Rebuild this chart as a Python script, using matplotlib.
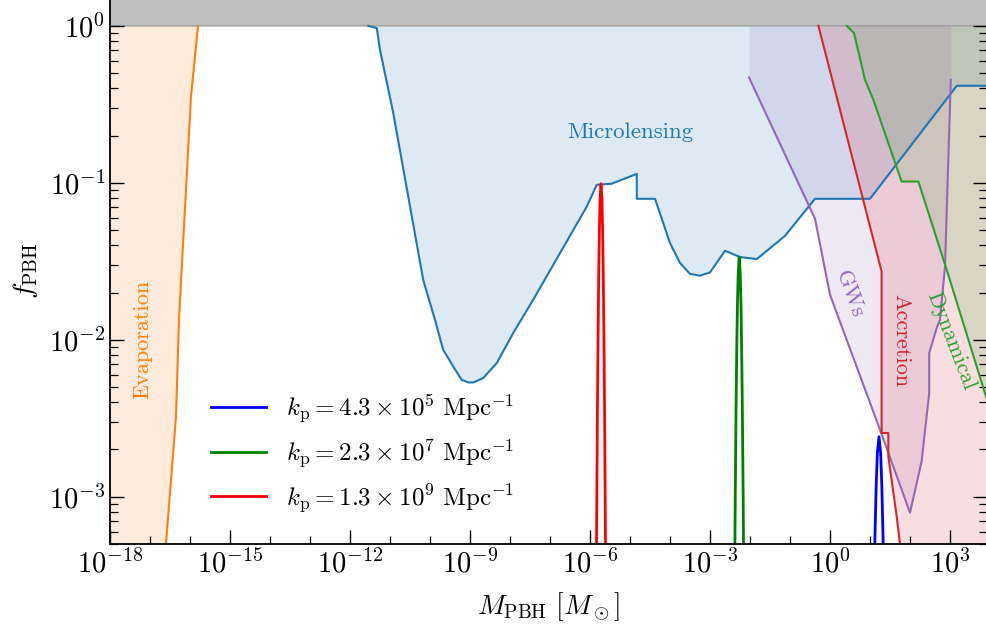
import numpy as np
import matplotlib
matplotlib.use('Agg')
import matplotlib.pyplot as plt
from matplotlib.ticker import NullFormatter

plt.rcParams['font.family'] = 'serif'
plt.rcParams['font.serif'] = ['cmr10']
plt.rcParams['mathtext.fontset'] = 'cm'
plt.rcParams['axes.formatter.use_mathtext'] = True

# all values are log10 of M_PBH [M_sun] and log10 of f_PBH
evap_logm = [-18.0, -16.6, -16.35, -16.275, -15.975, -15.8]
evap_logf = [-8.0, -3.3, -2.49, -1.87, -0.452, 0.0]

lens_logm = [-11.54, -11.33, -11.25, -10.92, -10.17, -9.875, -9.67, -9.42, -9.21,
             -9.04, -8.92, -8.67, -8.33, -7.92, -7.42, -6.08, -5.83, -5.46, -4.83,
             -4.83, -4.375, -4.0, -3.75, -3.5, -3.25, -3.0, -2.625, -2.25, -1.83,
             -1.125, -0.375, 1.0, 3.17, 4.0]
lens_logf = [0.0, -0.015, -0.153, -0.554, -1.618, -1.873, -2.064, -2.17, -2.255,
             -2.272, -2.272, -2.244, -2.148, -1.957, -1.745, -1.151, -1.013, -1.006,
             -0.943, -1.102, -1.102, -1.384, -1.511, -1.58, -1.592, -1.571, -1.433,
             -1.473, -1.486, -1.338, -1.102, -1.102, -0.382, -0.382]

gw_logm = [-2.025, -0.375, 0.0, 0.167, 1.25, 2.0, 2.29, 2.48, 2.48, 2.68, 2.75, 2.875, 3.02]
gw_logf = [-0.329, -1.229, -1.713, -1.828, -2.573, -3.102, -2.775, -2.34, -2.085,
           -1.915, -1.873, -1.533, -0.344]

acc_logm = [-0.29, 1.29, 1.29, 1.458, 1.458, 1.667, 1.75, 4.0]
acc_logf = [0.0, -1.565, -2.594, -2.594, -2.743, -3.125, -3.306, -6.0]

dyn_logm = [0.4175, 0.6, 0.875, 1.083, 1.79, 2.21, 2.25, 2.917, 3.925, 4.0]
dyn_logf = [0.0, -0.046, -0.344, -0.471, -0.992, -0.992, -1.024, -1.554, -2.382, -2.44]

# extended mass functions for the three peaks
peak_labels = [r'$k_\mathrm{p} = 4.3 \times 10^5\ \mathrm{Mpc}^{-1}$',
               r'$k_\mathrm{p} = 2.3 \times 10^7\ \mathrm{Mpc}^{-1}$',
               r'$k_\mathrm{p} = 1.3 \times 10^9\ \mathrm{Mpc}^{-1}$']
peak_colors = ['blue', 'green', 'red']

blue_logm = [1.071, 1.099, 1.127, 1.156, 1.185, 1.225, 1.265, 1.294, 1.323, 1.351, 1.379]
blue_logf = [-4.118, -3.618, -3.218, -2.918, -2.718, -2.618, -2.718, -2.918, -3.218, -3.618, -4.118]

green_logm = [-2.409, -2.391, -2.368, -2.35, -2.332, -2.314, -2.295, -2.27,
              -2.245, -2.226, -2.208, -2.19, -2.172, -2.149, -2.131]
green_logf = [-4.473, -3.773, -2.973, -2.473, -2.073, -1.773, -1.573, -1.473,
              -1.573, -1.773, -2.073, -2.473, -2.973, -3.773, -4.473]

red_logm = [-5.854, -5.838, -5.816, -5.799, -5.783, -5.766, -5.749, -5.725,
            -5.701, -5.684, -5.668, -5.651, -5.634, -5.613, -5.597]
red_logf = [-4.006, -3.306, -2.506, -2.006, -1.606, -1.306, -1.106, -1.006,
            -1.106, -1.306, -1.606, -2.006, -2.506, -3.306, -4.006]


def p(a):
    return 10 ** np.array(a)


fig = plt.figure(figsize=(9.87, 6.3), dpi=100)
ax = fig.add_axes([110 / 987, 86 / 630, 877 / 987, 544 / 630])

# constraint regions
regions = [
    (evap_logm, evap_logf, 'C1'),
    (lens_logm, lens_logf, 'C0'),
    (gw_logm, gw_logf, 'C4'),
    (acc_logm, acc_logf, 'C3'),
    (dyn_logm, dyn_logf, 'C2'),
]
for lm, lf, c in regions:
    ax.fill_between(p(lm), p(lf), 1, color=c, alpha=0.15, lw=0)
for lm, lf, c in regions:
    ax.plot(p(lm), p(lf), color=c, lw=1.5)

ax.fill_between([1e-19, 1e5], 1, 10, color='gray', alpha=0.5, lw=1.2)

peaks = [(blue_logm, blue_logf), (green_logm, green_logf), (red_logm, red_logf)]
for (lm, lf), c, lab in zip(peaks, peak_colors, peak_labels):
    ax.plot(p(lm), p(lf), color=c, lw=2, label=lab)

ax.text(1e-5, 0.21, 'Microlensing', color='C0', fontsize=16.5, ha='center', va='center')
ax.text(10 ** -17.175, 1e-2, 'Evaporation', color='C1', fontsize=16,
        rotation=90, ha='center', va='center')
ax.text(10 ** 0.5, 10 ** -1.707, 'GWs', color='C4', fontsize=16,
        rotation=-70, ha='center', va='center')
ax.text(10 ** 1.775, 10 ** -2.006, 'Accretion', color='C3', fontsize=16,
        rotation=-90, ha='center', va='center')
ax.text(10 ** 3.025, 10 ** -2.006, 'Dynamical', color='C2', fontsize=16,
        rotation=-69, ha='center', va='center')

ax.set_xscale('log')
ax.set_yscale('log')
ax.set_xlim(1e-18, 10 ** 3.925)
ax.set_ylim(5e-4, 1.46)

ax.set_xticks([10.0 ** k for k in range(-18, 4, 3)])
ax.set_xticks([10.0 ** k for k in range(-18, 4)], minor=True)
ax.xaxis.set_minor_formatter(NullFormatter())
ax.yaxis.set_minor_formatter(NullFormatter())
ax.tick_params(which='both', direction='in', top=False, right=True, labelsize=20.5)
ax.tick_params(which='major', length=10, width=1.0)
ax.tick_params(which='minor', length=5.5, width=0.9)
for s in ax.spines.values():
    s.set_linewidth(1.3)
ax.spines['top'].set_visible(False)

ax.set_xlabel(r'$M_\mathrm{PBH}\ [M_\odot]$', fontsize=20)
ax.set_ylabel(r'$f_\mathrm{PBH}$', fontsize=20)
ax.xaxis.set_label_coords(0.5, -0.085)
ax.yaxis.set_label_coords(-0.08, 0.502)

ax.legend(loc='center left', bbox_to_anchor=(0.104, 0.166), frameon=False,
          fontsize=18, handlelength=2.2, handletextpad=0.8, borderaxespad=0,
          labelspacing=0.48)

fig.savefig('out.png', dpi=100)
